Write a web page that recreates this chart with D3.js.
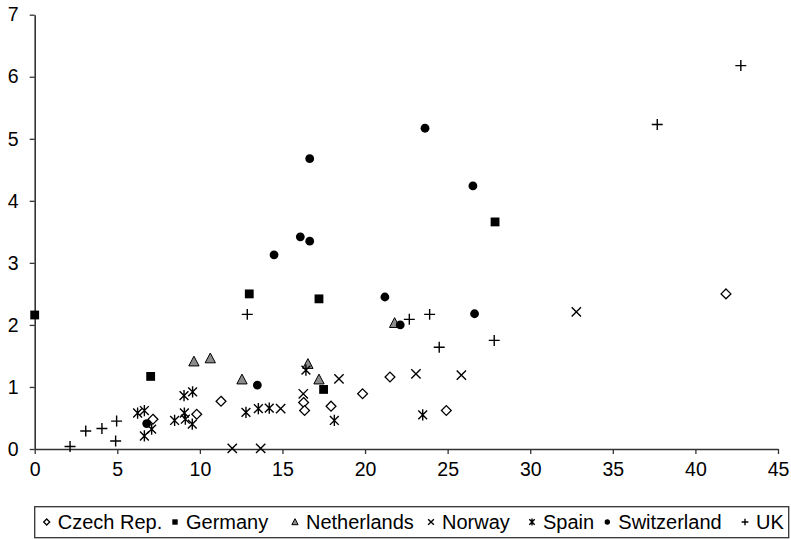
<!DOCTYPE html>
<html>
<head>
<meta charset="utf-8">
<script src="https://cdn.jsdelivr.net/npm/d3@7"></script>
<style>
  body { margin: 0; background: #fff; }
  text { font-family: "Liberation Sans", Arial, sans-serif; fill: #000; }
</style>
</head>
<body>
<div id="chart"></div>
<script>
// values: [x, y]
var czech = [[7.16,0.48],[9.81,0.56],[11.28,0.77],[16.28,0.75],[16.34,0.62],[17.94,0.69],
  [19.85,0.89],[21.51,1.16],[24.92,0.62],[41.85,2.50]];
var germany = [[0,2.16],[7.02,1.17],[12.99,2.50],[17.21,2.42],[17.49,0.96],[27.87,3.66]];
var netherlands = [[9.64,1.41],[10.63,1.46],[12.55,1.12],[16.54,1.37],[17.21,1.12],[21.79,2.03]];
var norway = [[11.96,0.01],[13.68,0.01],[14.89,0.65],[16.26,0.89],[18.42,1.13],[23.08,1.21],
  [25.83,1.19],[32.79,2.21]];
var spain = [[6.23,0.58],[6.64,0.62],[6.64,0.21],[7.08,0.32],[8.47,0.46],[9.04,0.86],[9.56,0.92],
  [9.06,0.58],[9.12,0.48],[9.54,0.40],[12.79,0.59],[13.54,0.65],[14.2,0.66],[16.42,1.27],
  [18.14,0.46],[23.49,0.55]];
var switzerland = [[6.78,0.41],[13.48,1.03],[14.49,3.13],[16.08,3.42],[16.65,3.35],[16.65,4.68],
  [21.2,2.45],[22.13,2.0],[23.63,5.17],[26.53,4.24],[26.63,2.18]];
var uk = [[2.14,0.04],[3.09,0.29],[4.07,0.33],[4.96,0.45],[4.90,0.13],[12.87,2.17],[22.68,2.09],
  [23.91,2.17],[24.49,1.64],[27.82,1.75],[37.69,5.23],[42.75,6.18]];

var xTicks = [0,5,10,15,20,25,30,35,40,45];
var yTicks = [0,1,2,3,4,5,6,7];

var series = [
  {name:'Czech Rep.', data:czech, shape:'diamond'},
  {name:'Germany', data:germany, shape:'square'},
  {name:'Netherlands', data:netherlands, shape:'triangle'},
  {name:'Norway', data:norway, shape:'x'},
  {name:'Spain', data:spain, shape:'star'},
  {name:'Switzerland', data:switzerland, shape:'circle'},
  {name:'UK', data:uk, shape:'plus'}
];

var W = 791, H = 539;
var svg = d3.select('#chart').append('svg').attr('width', W).attr('height', H);

var x = d3.scaleLinear().domain([0,45]).range([34.7,778]);
var y = d3.scaleLinear().domain([0,7]).range([449,14.7]);

// axes
var xAxis = svg.append('g').attr('transform','translate(0,'+y(0)+')')
  .call(d3.axisBottom(x).tickValues(xTicks).tickFormat(d3.format('d'))
    .tickSize(5).tickPadding(8).tickSizeOuter(0));
var yAxis = svg.append('g').attr('transform','translate('+x(0)+',0)')
  .call(d3.axisLeft(y).tickValues(yTicks).tickFormat(d3.format('d'))
    .tickSize(5).tickPadding(11).tickSizeOuter(0));

[xAxis, yAxis].forEach(function(a){
  a.select('.domain').attr('stroke','#333').attr('stroke-width',1.6);
  a.selectAll('.tick line').attr('stroke','#333').attr('stroke-width',1.3);
  a.selectAll('.tick text').style('font-size','19.5px').attr('fill','#000');
});

// marker drawing
function marker(g, shape, r){
  if (shape == 'circle'){
    g.append('circle').attr('r', r*0.9).attr('fill','#000');
  } else if (shape == 'square'){
    g.append('rect').attr('x',-r*0.9).attr('y',-r*0.9).attr('width',r*1.8).attr('height',r*1.8).attr('fill','#000');
  } else if (shape == 'triangle'){
    g.append('path').attr('d','M0,'+(-r*1.1)+'L'+(r*1.05)+','+(r*0.9)+'L'+(-r*1.05)+','+(r*0.9)+'Z')
      .attr('fill','#8c8c8c').attr('stroke','#000').attr('stroke-width',1);
  } else if (shape == 'diamond'){
    g.append('path').attr('d','M0,'+(-r)+'L'+r+',0L0,'+r+'L'+(-r)+',0Z')
      .attr('fill','#fff').attr('stroke','#000').attr('stroke-width',1.3);
  } else if (shape == 'x'){
    var a = r*0.95;
    g.append('path').attr('d','M'+(-a)+','+(-a)+'L'+a+','+a+'M'+a+','+(-a)+'L'+(-a)+','+a)
      .attr('stroke','#000').attr('stroke-width',1.4).attr('fill','none');
  } else if (shape == 'star'){
    var b = r*0.9;
    g.append('path').attr('d','M'+(-b)+','+(-b)+'L'+b+','+b+'M'+b+','+(-b)+'L'+(-b)+','+b+'M0,'+(-r*1.15)+'L0,'+(r*1.15))
      .attr('stroke','#000').attr('stroke-width',1.4).attr('fill','none');
  } else if (shape == 'plus'){
    var c = r*1.12;
    g.append('path').attr('d','M'+(-c)+',0L'+c+',0M0,'+(-c)+'L0,'+c)
      .attr('stroke','#000').attr('stroke-width',1.4).attr('fill','none');
  }
}

series.forEach(function(s){
  svg.append('g').selectAll('g')
    .data(s.data)
    .enter()
    .append('g')
    .attr('transform', function(d){ return 'translate('+x(d[0])+','+y(d[1])+')'; })
    .each(function(){ marker(d3.select(this), s.shape, 4.9); });
});

// legend
var legend = svg.append('g');
legend.append('rect').attr('x',34.7).attr('y',506.7).attr('width',754).attr('height',31)
  .attr('fill','#fff').attr('stroke','#333').attr('stroke-width',1.3);

var legX = [46.7, 175, 295, 431, 532, 607.3, 745];
var items = legend.selectAll('g.item').data(series).enter().append('g')
  .attr('class','item')
  .attr('transform', function(d,i){ return 'translate('+legX[i]+',522)'; });
items.each(function(d){ marker(d3.select(this), d.shape, 3); });
items.append('text')
  .attr('x', 11)
  .attr('y', 7)
  .style('font-size','20px')
  .text(function(d){ return d.name; });
</script>
</body>
</html>
